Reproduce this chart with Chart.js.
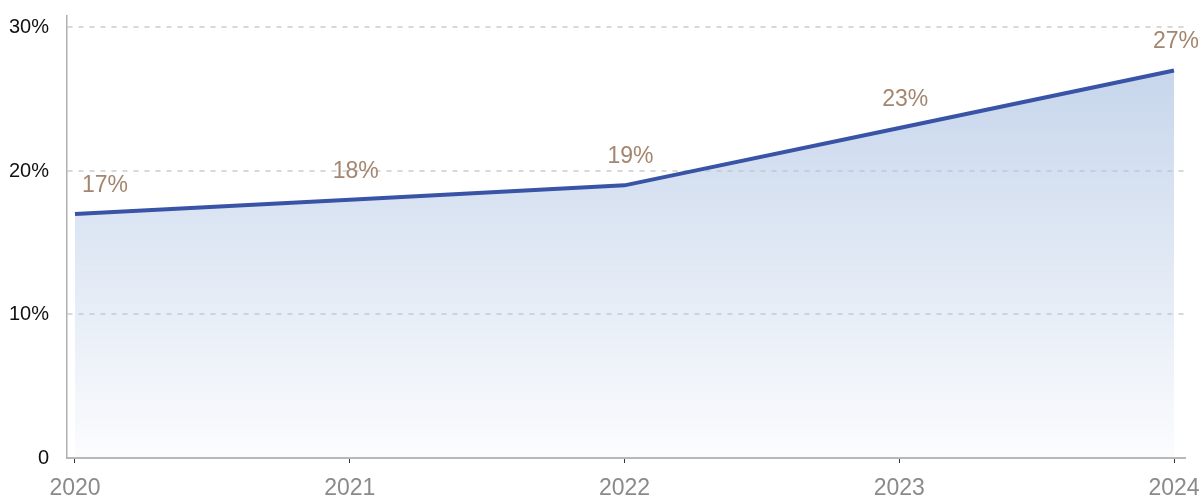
<!DOCTYPE html>
<html lang="en">
<head>
    <meta charset="UTF-8">
    <title>Share by year</title>
    <script src="https://cdn.jsdelivr.net/npm/chart.js@4.4.1/dist/chart.umd.min.js"></script>
    <style>
        body {
            margin: 0;
            background: #fff;
        }
        .chart-container {
            width: 1201px;
            height: 498px;
        }
    </style>
</head>
<body>
    <div class="chart-container">
        <canvas id="shareChart"></canvas>
    </div>

    <script>
        const years = [2020, 2021, 2022, 2023, 2024];
        const shareValues = [17, 18, 19, 23, 27];
        const yTicks = [0, 10, 20, 30];

        // value labels above each point
        const pointLabels = {
            id: 'pointLabels',
            afterDatasetsDraw(chart) {
                const ctx = chart.ctx;
                const meta = chart.getDatasetMeta(0);
                ctx.save();
                ctx.font = '23px "Liberation Sans", Arial, sans-serif';
                ctx.fillStyle = '#a4866f';
                ctx.textAlign = 'center';
                ctx.textBaseline = 'bottom';
                meta.data.forEach((pt, i) => {
                    const text = shareValues[i] + '%';
                    const w = ctx.measureText(text).width;
                    let x = pt.x + 6;
                    x = Math.max(x, chart.chartArea.left + w / 2 + 15);
                    x = Math.min(x, chart.width - w / 2 - 2);
                    ctx.fillText(text, x, pt.y - 17);
                });
                ctx.restore();
            }
        };

        const ctx = document.getElementById('shareChart').getContext('2d');
        new Chart(ctx, {
            type: 'line',
            data: {
                datasets: [{
                    data: years.map((y, i) => ({ x: y, y: shareValues[i] })),
                    borderColor: '#3954a6',
                    borderWidth: 4,
                    pointRadius: 0,
                    tension: 0,
                    fill: 'origin',
                    backgroundColor: (c) => {
                        const area = c.chart.chartArea;
                        if (!area) return 'rgba(190,205,232,0.8)';
                        const g = c.chart.ctx.createLinearGradient(0, area.top, 0, area.bottom);
                        g.addColorStop(0, 'rgba(176,197,228,0.8)');
                        g.addColorStop(1, 'rgba(176,197,228,0.05)');
                        return g;
                    }
                }]
            },
            options: {
                responsive: true,
                maintainAspectRatio: false,
                animation: false,
                layout: { padding: { top: 16, right: 16, left: 0, bottom: 0 } },
                plugins: {
                    legend: { display: false },
                    tooltip: { enabled: false }
                },
                scales: {
                    x: {
                        type: 'linear',
                        min: 2019.971,
                        max: 2024.04,
                        afterBuildTicks: (axis) => {
                            axis.ticks = years.map(v => ({ value: v }));
                        },
                        afterFit: (axis) => {
                            axis.height = 40;
                            axis.paddingLeft = 0;
                            axis.paddingRight = 0;
                        },
                        grid: {
                            display: true,
                            drawOnChartArea: false,
                            drawTicks: true,
                            tickLength: 5,
                            color: '#333'
                        },
                        border: { color: '#b8b8b8', width: 2 },
                        ticks: {
                            color: '#8a8a8a',
                            font: { size: 23, family: '"Liberation Sans", Arial, sans-serif' },
                            padding: 12,
                            maxRotation: 0,
                            callback: (v) => String(v)
                        }
                    },
                    y: {
                        min: 0,
                        max: 30.8,
                        afterBuildTicks: (axis) => {
                            axis.ticks = yTicks.map(v => ({ value: v }));
                        },
                        afterFit: (axis) => {
                            axis.width = 67;
                            axis.paddingTop = 0;
                            axis.paddingBottom = 0;
                        },
                        grid: {
                            color: (c) => c.tick.value === 0 ? 'rgba(0,0,0,0)' : '#d8d8d8',
                            lineWidth: 2,
                            drawTicks: false
                        },
                        border: { color: '#b0b0b0', width: 1.5, dash: [5, 6] },
                        ticks: {
                            color: '#111',
                            font: { size: 20, family: '"Liberation Sans", Arial, sans-serif' },
                            padding: 18,
                            callback: (v) => v === 0 ? '0' : v + '%'
                        }
                    }
                }
            },
            plugins: [pointLabels]
        });
    </script>
</body>
</html>
